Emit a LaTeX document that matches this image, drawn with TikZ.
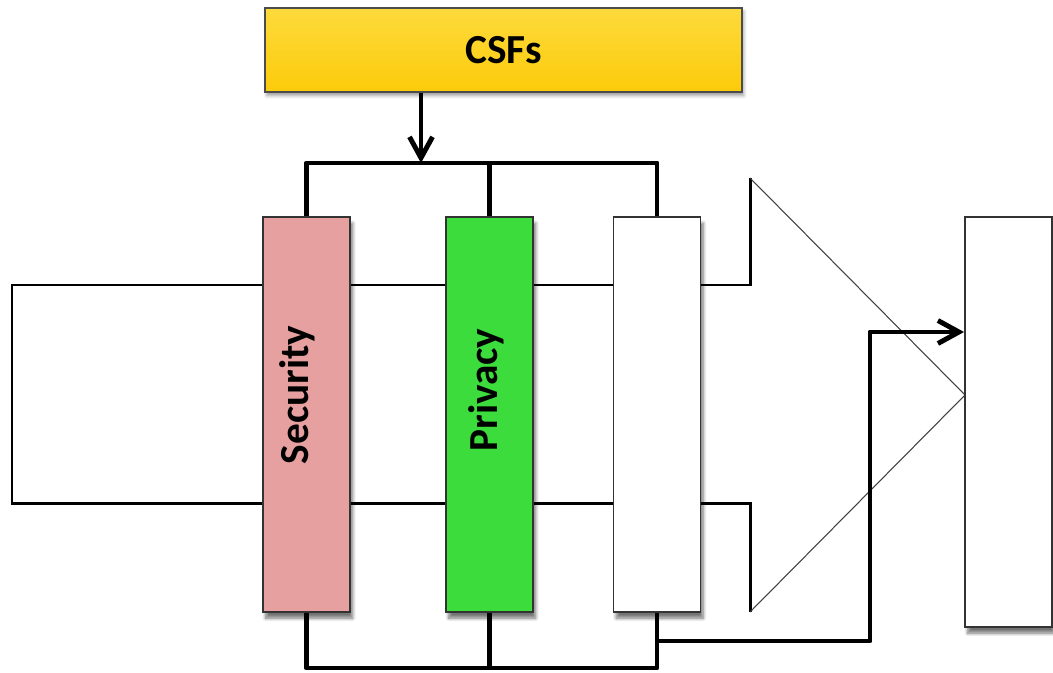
\documentclass[tikz,border=0pt]{standalone}
\usepackage{fontspec}
\setmainfont{Carlito}
\usetikzlibrary{arrows.meta,shadows.blur}

\definecolor{csfgold}{RGB}{252,203,10}
\definecolor{csflight}{RGB}{253,218,60}
\definecolor{secpink}{RGB}{230,160,160}
\definecolor{privgreen}{RGB}{60,220,60}

\begin{document}
\begin{tikzpicture}[
    x=0.02cm, y=-0.02cm,
    bar/.style={draw=black!80, line width=1.1pt, inner sep=0pt, minimum width=1.74cm, minimum height=7.9cm,
        blur shadow={shadow xshift=1.5pt, shadow yshift=-3.5pt, shadow blur steps=6, shadow opacity=55}},
    bigtext/.style={font=\fontsize{23.5}{28}\selectfont\bfseries},
    body/.style={line width=1.7pt, line join=miter},
    head/.style={line width=0.6pt, draw=black!75},
    bus/.style={line width=2.8pt, line join=round},
    tip/.style={-{Straight Barb[length=0.42cm, width=0.46cm]}}
]
\useasboundingbox (0,0) rectangle (1053,672);

% the wide arrow behind everything
\draw[body] (750,178) -- (750,285) -- (12,285) -- (12,503) -- (750,503) -- (750,612);
\draw[head] (750,178) -- (965,395) -- (750,612);

% boxes
\node[draw=black!70, line width=0.8pt, minimum width=9.54cm, minimum height=1.68cm, inner sep=0pt,
      top color=csflight, bottom color=csfgold,
      blur shadow={shadow xshift=1pt, shadow yshift=-2pt, shadow opacity=40}] (csf) at (503.5,50) {};
\node[bar, fill=secpink] (sec) at (306.5,414.5) {};
\node[bar, fill=privgreen] (priv) at (489.5,414.5) {};
\node[bar, fill=white] (third) at (657,414.5) {};
\node[bar, fill=white, minimum height=8.2cm] (out) at (1008.5,422) {};

% labels
\node[bigtext] (csfT) at (csf.center) {CSFs};
\node[bigtext, rotate=90] (secT) at (297,395) {Security};
\node[bigtext, rotate=90] (privT) at (486,390) {Privacy};

% CSFs feed all three boxes
\coordinate (split) at (421,163);
\draw[bus, tip] (csf.south -| split) -- (split);
\draw[bus] (sec.north) |- (split) -| (third.north);
\draw[bus] (priv.north) -- (priv.north |- split);

% bottom bus and loop back to the last box
\coordinate (collect) at (489.5,668);
\draw[bus] (sec.south) |- (collect) -| (third.south);
\draw[bus] (priv.south) -- (collect);
\coordinate (turn) at (870,641);
\coordinate (rise) at (870,332);
\draw[bus, tip] (third.south |- turn) -- (turn) -- (rise) -- (rise -| out.west);
\end{tikzpicture}
\end{document}
